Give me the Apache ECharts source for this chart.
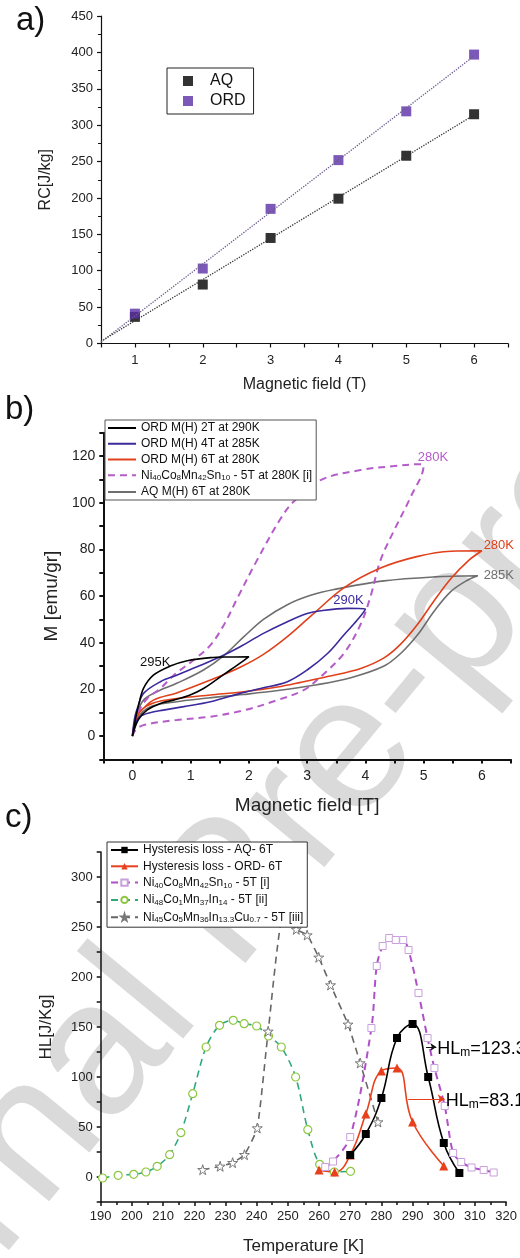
<!DOCTYPE html>
<html><head><meta charset="utf-8">
<script src="https://cdn.jsdelivr.net/npm/echarts@6/dist/echarts.min.js"></script>
<style>html,body{margin:0;padding:0;background:#fff}#c{width:520px;height:1258px}</style>
</head><body><div id="c"></div>
<script>
// ---------- Panel a: RC vs field ----------
const fieldA = [1, 2, 3, 4, 5, 6];
const rcAQ  = [36.6, 81, 145, 199, 258, 315];
const rcORD = [41, 103, 185, 252, 319, 397];
const fitAQ  = [[0.5, 3], [6, 314]];
const fitORD = [[0.5, 2], [6, 395]];

// ---------- Panel b: M(H) loops [field T, M emu/gr] ----------
const ord2T_up = [[0,0],[0.03,4],[0.06,8.3],[0.1,12.6],[0.19,20.4],[0.36,26.1],[0.65,30],[0.94,32.3],[1.34,33.6],[1.68,33.9],[2.0,34]];
const ord2T_dn = [[1.91,32.3],[1.68,28.3],[1.45,24.3],[1.22,20.4],[0.99,17.6],[0.71,15.4],[0.48,14],[0.25,11.1],[0.1,6.9],[0,0]];
const ord4T_up = [[0,0],[0.04,8],[0.1,13],[0.19,18.3],[0.48,23.3],[0.76,26.1],[1.11,29.7],[1.51,34],[1.85,38.3],[2.25,44],[2.66,49],[3.0,52.5],[3.23,53.7],[3.69,54.7],[4.0,54.5]];
const ord4T_dn = [[3.86,49.7],[3.63,43.3],[3.35,35.4],[3.0,28.3],[2.66,23.3],[2.2,20.4],[1.85,18.3],[1.34,14.7],[0.88,12.6],[0.53,11.1],[0.3,10],[0.13,8.3],[0.04,5],[0,0]];
const ord6T_up = [[0,0],[0.04,6],[0.12,10],[0.36,15.4],[0.76,18.5],[1.34,24],[1.85,29.5],[2.25,35],[2.66,42.6],[3.09,52],[3.63,63.5],[4.26,72],[4.9,77],[5.47,79.2],[6.0,79.4]];
const ord6T_dn = [[5.76,75],[5.47,67.5],[5.18,58],[4.9,48],[4.61,39.5],[4.32,33.5],[3.92,29],[3.35,25.5],[2.89,23],[2.49,21],[1.91,19],[1.34,17.6],[0.76,16.1],[0.36,14.2],[0.15,11],[0.05,6],[0,0]];
const niSn_up = [[0,0],[0.1,10],[0.25,16],[0.48,20.4],[0.71,26.1],[1.05,32.6],[1.34,39],[1.57,47.6],[1.8,59],[2.14,75.4],[2.54,93],[2.77,100.5],[3.23,109.7],[3.92,114],[4.49,115.7],[4.95,116.5]];
const niSn_dn = [[5.0,116],[4.78,102.6],[4.49,88],[4.26,75.4],[4.09,60],[3.92,48],[3.63,35.4],[3.23,25.4],[2.94,19.7],[2.49,15.4],[1.91,11],[1.34,8.3],[0.76,6.9],[0.19,4.7],[0.05,2.5],[0,0]];
const aq6T_up = [[0,0],[0.07,9],[0.19,15.4],[0.42,19],[0.76,22.6],[1.22,28.3],[1.57,34.5],[1.91,42.5],[2.25,50],[2.66,56.3],[3.06,60.3],[3.46,62.8],[4.32,66.5],[5.18,68.2],[5.93,68.7]];
const aq6T_dn = [[5.76,66.9],[5.47,62],[5.18,53.5],[4.9,43.5],[4.61,35.5],[4.32,30],[3.75,25],[3.17,22],[2.5,19.5],[1.9,17.8],[1.3,16.3],[0.7,14.5],[0.3,12.5],[0.1,8],[0,0]];

// ---------- Panel c: hysteresis loss vs temperature ----------
const tempAQ = [270, 275, 280, 285, 290, 295, 300, 305];
const hlAQ   = [22, 43, 79, 139, 153, 100, 34, 4];
const tempORD = [260, 265, 270, 275, 280, 285, 290, 300];
const hlORD   = [7, 5, 22, 63, 106, 109, 55, 11];
const tempNiSn = [262, 264.5, 270, 276.8, 278.5, 280.4, 282.5, 284.6, 287, 288.7, 291.9, 294.8, 297, 300.3, 303, 305.6, 308.9, 312.8, 316];
const hlNiSn   = [10, 15.5, 40, 149, 211, 231, 239, 237, 237, 227, 184, 139, 109, 71, 24, 15, 9.5, 7, 4.5];
const tempNiIn = [190.6, 195.6, 200.6, 204.5, 208.1, 212.1, 215.7, 219.5, 223.8, 228.1, 232.5, 236, 240, 243.8, 247.9, 252.5, 256.4, 260.2, 264.9, 270.1];
const hlNiIn   = [-1, 1.7, 2.7, 5, 10.7, 22.3, 44.3, 83.3, 130, 151.7, 156.7, 153.3, 151, 141, 130, 100, 47.3, 12.7, 5, 5.7];
const tempNiInCu = [222.7, 228.3, 232.3, 236.1, 240.2, 243.7, 248.5, 252.7, 256.2, 259.9, 263.7, 269.3, 273.2, 278.9];
const hlNiInCu   = [7.3, 10.7, 14.3, 22.3, 49, 145.7, 262, 247.7, 242, 219.7, 192, 152.7, 114, 55];

const namesA = ['AQ', 'ORD'];
const namesB = ['ORD M(H) 2T at 290K', 'ORD M(H) 4T at 285K', 'ORD M(H) 6T at 280K', 'Ni40Co8Mn42Sn10 - 5T at 280K [i]', 'AQ M(H) 6T at 280K'];
const namesC = ['Hysteresis loss - AQ- 6T', 'Hysteresis loss - ORD- 6T', 'Ni40Co8Mn42Sn10 - 5T [i]', 'Ni48Co1Mn37In14 - 5T [ii]', 'Ni45Co5Mn36In13.3Cu0.7 - 5T [iii]'];

const annB = [
  {t: '295K', at: [0.13, 31.4], c: '#111111'},
  {t: '290K', at: [3.45, 58], c: '#3b2a9b'},
  {t: '280K', at: [6.03, 81.9], c: '#e0401a'},
  {t: '285K', at: [6.03, 69], c: '#6e6e6e'},
  {t: '280K', at: [4.9, 119.6], c: '#b45cc8'}
];
const annC = [
  {t: '123.3', at: [297.9, 128], c: '#111111', from: [294.3, 130], to: [297.6, 130]},
  {t: '83.1', at: [300.6, 76], c: '#e8401c', from: [288.6, 78], to: [300.3, 78]}
];

const FONT = '"Liberation Sans", Arial, sans-serif';
const zip = (xs, ys) => xs.map((x, i) => [x, ys[i]]);
const isInt = v => Math.abs(v - Math.round(v)) < 1e-6;
const mult = (v, m) => Math.abs(v / m - Math.round(v / m)) < 1e-6;

function chem(name) {
  const i = name.indexOf(' - ');
  if (name.startsWith('Ni') && i > 0) {
    const f = name.slice(0, i), rest = name.slice(i);
    const parts = f.match(/[A-Z][a-z]?|\d+(?:\.\d+)?/g);
    return parts.map(p => /\d/.test(p[0]) ? '{s|' + p + '}' : '{n|' + p + '}').join('') + '{n|' + rest + '}';
  }
  return '{n|' + name + '}';
}
const richLeg = {
  n: {fontSize: 12, lineHeight: 14, fontFamily: FONT, color: '#111'},
  s: {fontSize: 8, lineHeight: 8, verticalAlign: 'bottom', fontFamily: FONT, color: '#111'}
};

function ax(extra, fs, lw) {
  return Object.assign({
    type: 'value',
    axisLine: {show: true, onZero: false, lineStyle: {color: '#111', width: lw}},
    axisTick: {show: true, length: 4, lineStyle: {color: '#111', width: lw}},
    axisLabel: {fontSize: fs, color: '#222', fontFamily: FONT},
    splitLine: {show: false},
    nameTextStyle: {fontFamily: FONT, color: '#222'}
  }, extra);
}

const chart = echarts.init(document.getElementById('c'));

const lineB = (name, up, dn, color, dashed) => ({
  name, type: 'line', xAxisIndex: 1, yAxisIndex: 1, data: up.concat(dn),
  symbol: 'none', smooth: 0.35,
  lineStyle: {color, width: dashed ? 2 : 1.6, type: dashed ? [7, 5] : 'solid'},
  itemStyle: {color}
});

const starPath = 'path://M50,0 L61,35 L98,35 L68,57 L79,91 L50,70 L21,91 L32,57 L2,35 L39,35 Z';

const option = {
  animation: false,
  backgroundColor: '#fff',
  textStyle: {fontFamily: FONT},
  grid: [
    {left: 101, width: 407, top: 16, height: 327.5},
    {left: 103.3, width: 407.7, top: 432.7, height: 326.7},
    {left: 100.7, width: 407.6, top: 852, height: 350}
  ],
  xAxis: [
    ax({gridIndex: 0, min: 0.5, max: 6.5, interval: 0.5, name: 'Magnetic field (T)', nameLocation: 'middle', nameGap: 33,
        nameTextStyle: {fontSize: 16, fontFamily: FONT, color: '#222'},
        axisLabel: {fontSize: 13, color: '#222', fontFamily: FONT, margin: 10, formatter: v => isInt(v) ? String(Math.round(v)) : ''}}, 13, 1.2),
    ax({gridIndex: 1, min: -0.5, max: 6.5, interval: 0.5, name: 'Magnetic field [T]', nameLocation: 'middle', nameGap: 37,
        nameTextStyle: {fontSize: 19, fontFamily: FONT, color: '#222'},
        axisLabel: {fontSize: 14, color: '#222', fontFamily: FONT, margin: 10, formatter: v => isInt(v) ? String(Math.round(v)) : ''}}, 14, 2),
    ax({gridIndex: 2, min: 190, max: 320, interval: 10, name: 'Temperature [K]', nameLocation: 'middle', nameGap: 36,
        nameTextStyle: {fontSize: 17, fontFamily: FONT, color: '#222'},
        minorTick: {show: true, splitNumber: 2, length: 3, lineStyle: {color: '#111', width: 1.5}},
        axisLabel: {fontSize: 13, color: '#222', fontFamily: FONT, margin: 8}}, 13, 1.5)
  ],
  yAxis: [
    ax({gridIndex: 0, min: 0, max: 450, interval: 50, name: 'RC[J/kg]', nameLocation: 'middle', nameGap: 47,
        nameTextStyle: {fontSize: 16, fontFamily: FONT, color: '#222'},
        minorTick: {show: true, splitNumber: 2, length: 3, lineStyle: {color: '#111'}},
        axisLabel: {fontSize: 13, color: '#222', fontFamily: FONT, margin: 8}}, 13, 1.2),
    ax({gridIndex: 1, min: -10, max: 130, interval: 10, name: 'M [emu/gr]', nameLocation: 'middle', nameGap: 40,
        nameTextStyle: {fontSize: 19, fontFamily: FONT, color: '#222'},
        axisLabel: {fontSize: 14, color: '#222', fontFamily: FONT, margin: 8, formatter: v => (v >= 0 && mult(v, 20)) ? String(Math.round(v)) : ''}}, 14, 2),
    ax({gridIndex: 2, min: -25, max: 325, interval: 25, name: 'HL[J/Kg]', nameLocation: 'middle', nameGap: 46,
        nameTextStyle: {fontSize: 17, fontFamily: FONT, color: '#222'},
        axisLabel: {fontSize: 13, color: '#222', fontFamily: FONT, margin: 8, formatter: v => (v >= 0 && mult(v, 50)) ? String(Math.round(v)) : ''}}, 13, 1.5)
  ],
  legend: [
    {data: namesA, orient: 'vertical', left: 167, top: 68, icon: 'rect', itemWidth: 10, itemHeight: 10, itemGap: 4,
     padding: [5, 8, 5, 16], borderColor: '#222', borderWidth: 1, backgroundColor: '#fff',
     textStyle: {fontSize: 16, color: '#111', fontFamily: FONT, padding: [0, 0, 0, 12]}},
    {data: namesB, orient: 'vertical', left: 105, top: 420, itemWidth: 28, itemHeight: 12, itemGap: 3.75,
     padding: [2, 4, 2, 2], borderColor: '#555', borderWidth: 1, backgroundColor: '#fff',
     itemStyle: {opacity: 0},
     formatter: chem, textStyle: {rich: richLeg}},
    {data: namesC, orient: 'vertical', left: 107, top: 842, itemWidth: 27, itemHeight: 8, itemGap: 4.3,
     padding: [2, 4, 3, 3], borderColor: '#333', borderWidth: 1, backgroundColor: '#fff',
     formatter: chem, textStyle: {rich: richLeg}}
  ],
  series: [
    // panel a
    {name: 'AQ-fit', type: 'line', xAxisIndex: 0, yAxisIndex: 0, data: fitAQ, showSymbol: false, silent: true,
     lineStyle: {type: 'dotted', width: 1.3, color: '#333'}},
    {name: 'ORD-fit', type: 'line', xAxisIndex: 0, yAxisIndex: 0, data: fitORD, showSymbol: false, silent: true,
     lineStyle: {type: 'dotted', width: 1.3, color: '#6a5a8e'}},
    {name: 'AQ', type: 'scatter', xAxisIndex: 0, yAxisIndex: 0, data: zip(fieldA, rcAQ), symbol: 'rect', symbolSize: 10,
     itemStyle: {color: '#000'}},
    {name: 'ORD', type: 'scatter', xAxisIndex: 0, yAxisIndex: 0, data: zip(fieldA, rcORD), symbol: 'rect', symbolSize: 10,
     itemStyle: {color: '#5b2fa6'}},
    // panel b
    lineB(namesB[4], aq6T_up, aq6T_dn, '#6e6e6e', false),
    lineB(namesB[3], niSn_up, niSn_dn, '#b45cc8', true),
    lineB(namesB[2], ord6T_up, ord6T_dn, '#e0401a', false),
    lineB(namesB[1], ord4T_up, ord4T_dn, '#3b2a9b', false),
    lineB(namesB[0], ord2T_up, ord2T_dn, '#000000', false),
    // panel c
    {name: namesC[3], type: 'line', xAxisIndex: 2, yAxisIndex: 2, data: zip(tempNiIn, hlNiIn), smooth: 0.3,
     symbol: 'circle', symbolSize: 8, lineStyle: {color: '#2ea97e', width: 1.6, type: [7, 5]},
     itemStyle: {color: '#fff', borderColor: '#8dc63f', borderWidth: 1.2}},
    {name: namesC[4], type: 'line', xAxisIndex: 2, yAxisIndex: 2, data: zip(tempNiInCu, hlNiInCu), smooth: 0.15,
     symbol: starPath, symbolSize: 10, lineStyle: {color: '#666', width: 1.6, type: [7, 5]},
     itemStyle: {color: '#fff', borderColor: '#777', borderWidth: 1}},
    {name: namesC[2], type: 'line', xAxisIndex: 2, yAxisIndex: 2, data: zip(tempNiSn, hlNiSn), smooth: 0.3,
     symbol: 'rect', symbolSize: 7, lineStyle: {color: '#b050c8', width: 2, type: [7, 5]},
     itemStyle: {color: '#fff', borderColor: '#c9a0dc', borderWidth: 1}},
    {name: namesC[1], type: 'line', xAxisIndex: 2, yAxisIndex: 2, data: zip(tempORD, hlORD), smooth: 0.45,
     symbol: 'triangle', symbolSize: 9, lineStyle: {color: '#e8401c', width: 1.6}, itemStyle: {color: '#e8401c'},
     markLine: {silent: true, symbol: ['none', 'arrow'], symbolSize: 7, label: {show: false},
       lineStyle: {color: annC[1].c, type: 'solid', width: 1},
       data: [[{coord: annC[1].from}, {coord: annC[1].to}]]}},
    {name: namesC[0], type: 'line', xAxisIndex: 2, yAxisIndex: 2, data: zip(tempAQ, hlAQ), smooth: 0.45,
     symbol: 'rect', symbolSize: 8, lineStyle: {color: '#000', width: 1.6}, itemStyle: {color: '#000'},
     markLine: {silent: true, symbol: ['none', 'arrow'], symbolSize: 6, label: {show: false},
       lineStyle: {color: annC[0].c, type: 'solid', width: 1},
       data: [[{coord: annC[0].from}, {coord: annC[0].to}]]}}
  ]
};
chart.setOption(option);

// annotations, positioned through the chart's own coordinate systems
const g = [];
g.push({type: 'text', x: 232, y: 897, rotation: 50.5 * Math.PI / 180, z: -5, silent: true,
  style: {text: 'Journal Pre-proof', font: '190px ' + FONT, fill: '#dadada', textAlign: 'center', textVerticalAlign: 'middle'}});
g.push({type: 'text', left: 16, top: 4, style: {text: 'a)', font: '33px ' + FONT, fill: '#111'}});
g.push({type: 'text', left: 5, top: 393, style: {text: 'b)', font: '33px ' + FONT, fill: '#111'}});
g.push({type: 'text', left: 5, top: 801, style: {text: 'c)', font: '33px ' + FONT, fill: '#111'}});
annB.forEach(a => {
  const p = chart.convertToPixel({gridIndex: 1}, a.at);
  g.push({type: 'text', x: p[0], y: p[1], z: 10,
    style: {text: a.t, fill: a.c, font: '13px ' + FONT, textAlign: 'left', textVerticalAlign: 'middle'}});
});
annC.forEach(a => {
  const p = chart.convertToPixel({gridIndex: 2}, a.at);
  g.push({type: 'text', x: p[0], y: p[1], z: 10,
    style: {text: '{n|HL}{s|m}{n|=' + a.t + '}', textAlign: 'left', textVerticalAlign: 'middle',
      rich: {n: {fontSize: 18, lineHeight: 20, fontFamily: FONT, color: a.c},
             s: {fontSize: 12, lineHeight: 12, verticalAlign: 'bottom', fontFamily: FONT, color: a.c}}}});
});
chart.setOption({graphic: g});
</script>
</body></html>
